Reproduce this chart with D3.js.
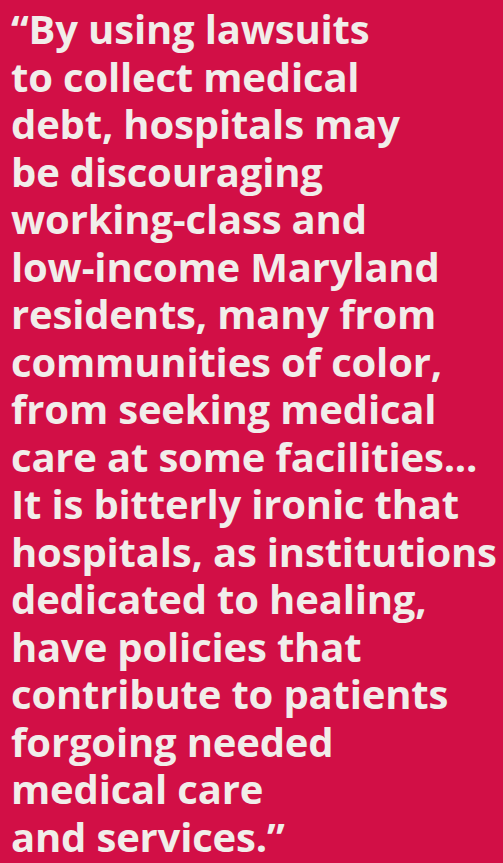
<!DOCTYPE html>
<html>
<head>
<meta charset="utf-8">
<script src="https://cdn.jsdelivr.net/npm/d3@7"></script>
<style>
  html, body { margin: 0; padding: 0; background: #d20f46; }
  svg { display: block; }
</style>
</head>
<body>
<script>
const width  = 503;
const height = 863;

// quote lines, top to bottom
const quoteLines = [
  '\u201cBy using lawsuits',
  'to collect medical',
  'debt, hospitals may',
  'be discouraging',
  'working-class and',
  'low-income Maryland',
  'residents, many from',
  'communities of color,',
  'from seeking medical',
  'care at some facilities...',
  'It is bitterly ironic that',
  'hospitals, as institutions',
  'dedicated to healing,',
  'have policies that',
  'contribute to patients',
  'forgoing needed',
  'medical care',
  'and services.\u201d'
];

const bg       = '#d20f46';
const ink      = '#f1edea';
const fontSize = 40;
const left     = 11;
const right    = 497;

const svg = d3.select('body').append('svg')
      .attr('width', width)
      .attr('height', height);

svg.append('rect')
  .attr('width', width)
  .attr('height', height)
  .attr('fill', bg);

const y = d3.scalePoint()
      .domain(d3.range(quoteLines.length))
      .range([44, 852]);

// one text block, one tspan per line
const quote = svg.append('text')
      .attr('fill', ink)
      .style('font-family', '"Open Sans", Lato, sans-serif')
      .style('font-weight', 700)
      .style('font-size', fontSize + 'px');

const lines = quote.selectAll('tspan')
      .data(quoteLines)
      .enter().append('tspan')
      .attr('x', left)
      .attr('y', (d, i) => y(i))
      .text(d => d);

// adjust spacing so the widest line fills the column like the original
let widest = null, wMax = 0;
lines.each(function(d) {
  const w = this.getComputedTextLength();
  if (w > wMax) { wMax = w; widest = d; }
});
const ls = (right - left - wMax) / (widest.length - 1);
quote.style('letter-spacing', ls + 'px');
</script>
</body>
</html>
